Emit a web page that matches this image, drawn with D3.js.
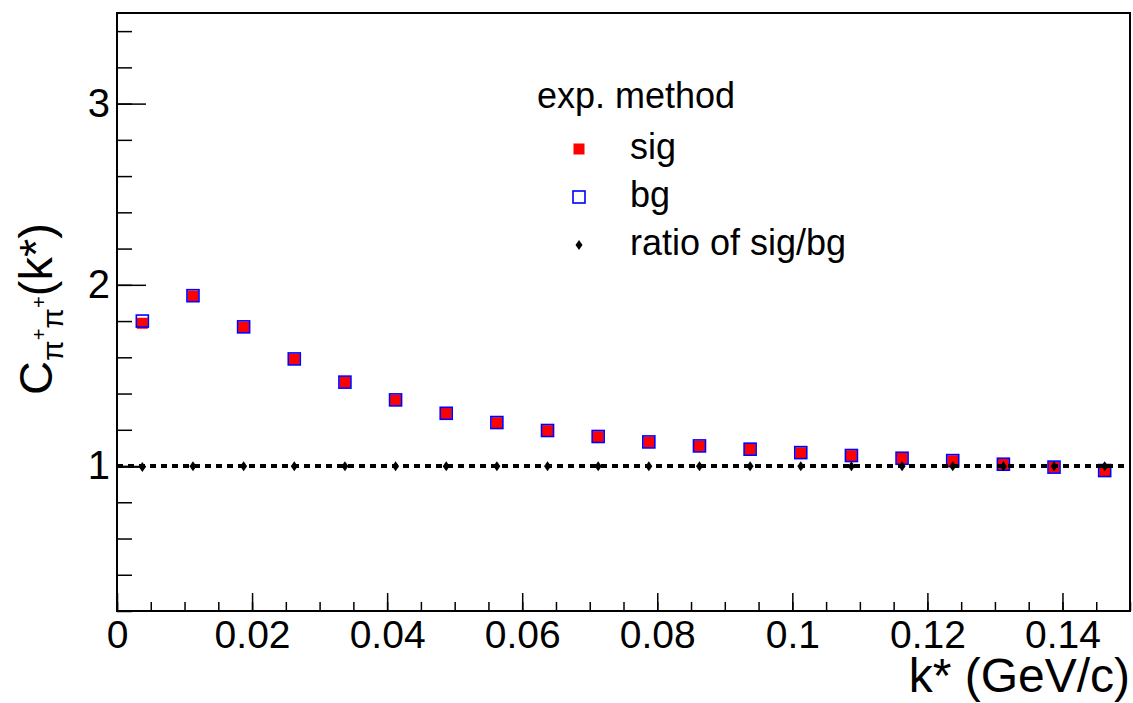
<!DOCTYPE html>
<html>
<head>
<meta charset="utf-8">
<script src="https://cdn.jsdelivr.net/npm/d3@7"></script>
<style>
  body { margin: 0; background: #fff; }
  text { font-family: "Liberation Sans", Arial, sans-serif; }
</style>
</head>
<body>
<svg id="drawsvg" width="1133" height="703"></svg>
<script>
// bin centres of k* (GeV/c)
var kStar = [0.00375, 0.01125, 0.01875, 0.02625, 0.03375, 0.04125, 0.04875, 0.05625, 0.06375, 0.07125,
             0.07875, 0.08625, 0.09375, 0.10125, 0.10875, 0.11625, 0.12375, 0.13125, 0.13875, 0.14625];
var sigVals = [1.788, 1.938, 1.767, 1.590, 1.462, 1.364, 1.290, 1.239, 1.195, 1.162,
               1.132, 1.110, 1.092, 1.073, 1.057, 1.042, 1.029, 1.009, 0.993, 0.974];
var bgVals  = [1.800, 1.940, 1.768, 1.591, 1.463, 1.365, 1.291, 1.240, 1.196, 1.163,
               1.133, 1.111, 1.093, 1.074, 1.058, 1.043, 1.030, 1.010, 0.994, 0.975];
var ratioVals = [0.994, 0.999, 0.999, 0.999, 0.999, 0.999, 0.999, 0.999, 0.999, 0.999,
                 0.999, 0.999, 0.999, 0.999, 0.999, 0.999, 0.999, 0.999, 0.999, 0.999];
var xTicks = [0, 0.02, 0.04, 0.06, 0.08, 0.1, 0.12, 0.14];
var yTicks = [1, 2, 3];
var legendLabels = ['sig', 'bg', 'ratio of sig/bg'];

var svg = d3.select('#drawsvg');
var frame = {left: 117, top: 13, right: 1130, bottom: 611};

var x = d3.scaleLinear().domain([0, 0.15]).range([frame.left, frame.right]);
var y = d3.scaleLinear().domain([0.2, 3.5]).range([frame.bottom, frame.top]);

// minor ticks (no labels)
svg.append('g')
   .attr('transform', 'translate(' + frame.left + ',0)')
   .call(d3.axisLeft(y).tickValues(y.ticks(17)).tickSize(-15).tickSizeOuter(0).tickFormat(''))
   .call(function(g){ g.select('.domain').remove(); })
   .selectAll('line').attr('stroke-width', 1.5);
svg.append('g')
   .attr('transform', 'translate(0,' + frame.bottom + ')')
   .call(d3.axisBottom(x).tickValues(x.ticks(30)).tickSize(-9).tickSizeOuter(0).tickFormat(''))
   .call(function(g){ g.select('.domain').remove(); })
   .selectAll('line').attr('stroke-width', 1.5);

// major ticks + labels
var yAxis = svg.append('g')
   .attr('transform', 'translate(' + frame.left + ',0)')
   .call(d3.axisLeft(y).tickValues(yTicks).tickSize(-29).tickSizeOuter(0).tickPadding(7).tickFormat(d3.format('d')));
yAxis.select('.domain').remove();
yAxis.selectAll('line').attr('stroke-width', 1.5);
yAxis.selectAll('text').style('font-size', '40px').attr('font-family', null);

var xAxis = svg.append('g')
   .attr('transform', 'translate(0,' + frame.bottom + ')')
   .call(d3.axisBottom(x).tickValues(xTicks).tickSize(-18).tickSizeOuter(0).tickPadding(9)
         .tickFormat(function(d){ return String(+d.toFixed(2)); }));
xAxis.select('.domain').remove();
xAxis.selectAll('line').attr('stroke-width', 1.5);
xAxis.selectAll('text').style('font-size', '39px').attr('font-family', null);

// frame
svg.append('rect')
   .attr('x', frame.left).attr('y', frame.top)
   .attr('width', frame.right - frame.left).attr('height', frame.bottom - frame.top)
   .style('fill', 'none').style('stroke', 'black').style('stroke-width', 2);

// axis titles
svg.append('text')
   .attr('x', frame.right).attr('y', 692)
   .attr('text-anchor', 'end')
   .style('font-size', '48px')
   .text('k* (GeV/c)');

var yt = svg.append('text')
   .attr('transform', 'translate(52,395) rotate(-90)')
   .style('font-size', '47px');
yt.append('tspan').text('C');
yt.append('tspan').attr('dy', 11).style('font-size', '30px').text('\u03c0');
yt.append('tspan').attr('dy', -17).style('font-size', '20px').text('+');
yt.append('tspan').attr('dy', 17).style('font-size', '30px').text('\u03c0');
yt.append('tspan').attr('dy', -17).style('font-size', '20px').text('+');
yt.append('tspan').attr('dy', 6).text('(k*)');

// markers
var boxSig = 11, boxBg = 12;
var plot = svg.append('g');

plot.selectAll('.sig').data(kStar).enter()
   .append('rect').attr('class', 'sig')
   .attr('x', function(d){ return x(d) - boxSig / 2; })
   .attr('y', function(d, i){ return y(sigVals[i]) - boxSig / 2; })
   .attr('width', boxSig).attr('height', boxSig)
   .style('fill', '#ff0000');

plot.selectAll('.bg').data(kStar).enter()
   .append('rect').attr('class', 'bg')
   .attr('x', function(d){ return x(d) - boxBg / 2; })
   .attr('y', function(d, i){ return y(bgVals[i]) - boxBg / 2; })
   .attr('width', boxBg).attr('height', boxBg)
   .style('fill', 'none').style('stroke', '#0000ff').style('stroke-width', 1.6);

// reference line at 1
plot.append('line')
   .attr('x1', x(0)).attr('x2', x(0.15))
   .attr('y1', y(1)).attr('y2', y(1))
   .style('stroke', 'black').style('stroke-width', 4)
   .style('stroke-dasharray', '6 5');
plot.append('line')
   .attr('x1', x(0)).attr('x2', x(kStar[0]))
   .attr('y1', y(ratioVals[0])).attr('y2', y(ratioVals[0]))
   .style('stroke', 'black').style('stroke-width', 1.5);

var diamond = function(cx, cy){
  return 'M' + cx + ',' + (cy - 5) + 'L' + (cx + 3.5) + ',' + cy + 'L' + cx + ',' + (cy + 5) + 'L' + (cx - 3.5) + ',' + cy + 'Z';
};
plot.selectAll('.ratio').data(kStar).enter()
   .append('path').attr('class', 'ratio')
   .attr('d', function(d, i){ return diamond(x(d), y(ratioVals[i])); })
   .style('fill', 'black');

// legend
var leg = svg.append('g');
leg.append('text').attr('x', 537).attr('y', 108).style('font-size', '36px').text('exp. method');
var legY = [149, 197, 245];
leg.selectAll('.ltext').data(legendLabels).enter()
   .append('text').attr('class', 'ltext')
   .attr('x', 630).attr('y', function(d, i){ return legY[i] + 10; })
   .style('font-size', '36px')
   .text(function(d){ return d; });
leg.append('rect').attr('x', 579 - 5.5).attr('y', legY[0] - 5.5).attr('width', 11).attr('height', 11).style('fill', '#ff0000');
leg.append('rect').attr('x', 579 - 6).attr('y', legY[1] - 6).attr('width', 12).attr('height', 12)
   .style('fill', 'none').style('stroke', '#0000ff').style('stroke-width', 1.6);
leg.append('path').attr('d', diamond(579, legY[2])).style('fill', 'black');
</script>
</body>
</html>
